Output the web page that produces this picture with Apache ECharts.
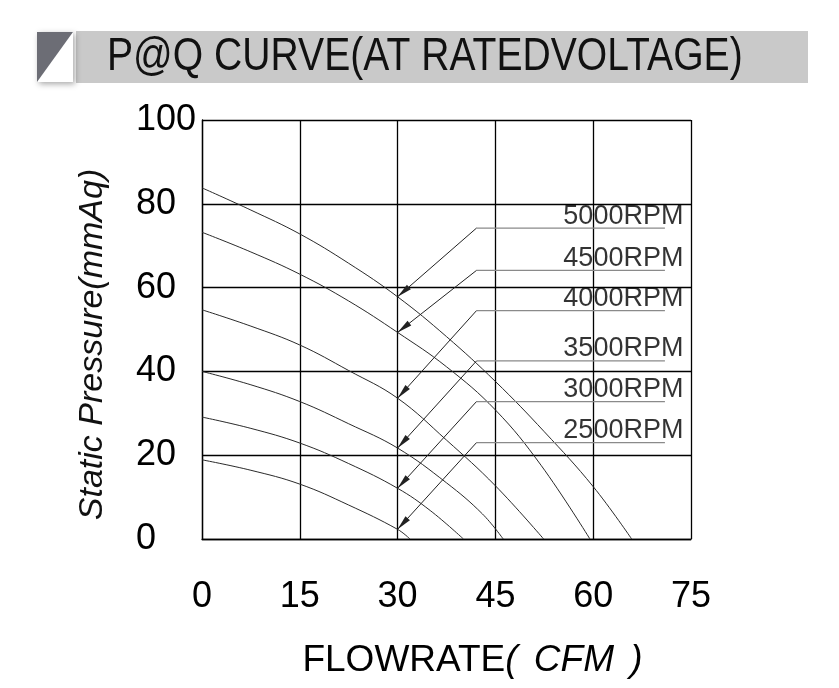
<!DOCTYPE html>
<html>
<head>
<meta charset="utf-8">
<script src="https://cdn.jsdelivr.net/npm/echarts@6/dist/echarts.min.js"></script>
<style>
html,body{margin:0;padding:0;background:#fff;}
#chart{width:839px;height:688px;}
</style>
</head>
<body>
<div id="chart"></div>
<script>
// ---- data (Flowrate CFM, Static pressure mmAq) ----
const flowTicks = [0, 15, 30, 45, 60, 75];
const pressureTicks = [0, 20, 40, 60, 80, 100];
const rpmNames = ['5000RPM', '4500RPM', '4000RPM', '3500RPM', '3000RPM', '2500RPM'];
const rpm5000 = [[0,83.8],[7.5,78.5],[15,72.8],[22.5,65.8],[30,57.8],[37.5,48.3],[45,37.6],[52.5,25.6],[60,12.5],[65.9,0]];
const rpm4500 = [[0,73.2],[7.5,68.5],[15,63.2],[22.5,56.8],[30,49.3],[37.5,41.1],[45,30.8],[52,17.6],[59.5,0]];
const rpm4000 = [[0,54.7],[7.5,50.8],[15,46.3],[22.5,40.2],[30,33.6],[37.5,23.6],[45,12.7],[52.4,0]];
const rpm3500 = [[0,40],[7.5,36.8],[15,32.8],[22.5,27.5],[30,21.7],[37.5,13.4],[43,6.0],[46.2,0]];
const rpm3000 = [[0,29.1],[7.5,26.4],[15,22.9],[22.5,18.0],[30,12.1],[35,6.8],[40.1,0]];
const rpm2500 = [[0,18.9],[7.5,16.4],[15,13.1],[22.5,8.1],[30,2.3],[31.9,0]];
const curves = [rpm5000, rpm4500, rpm4000, rpm3500, rpm3000, rpm2500];
// callout leader lines: pressure level of each label's horizontal line
const labelLineP = [74.2, 64.1, 54.5, 42.5, 32.8, 23.0];
const labelLineQ = [42.1, 71];   // flow range of horizontal label lines
const arrowQ = 30;                // arrows point at the curves at this flow

const FONT = 'Liberation Sans, Arial, sans-serif';
const chart = echarts.init(document.getElementById('chart'), null, {renderer: 'canvas'});

const series = [];
curves.forEach((c, i) => {
  series.push({
    type: 'line', name: rpmNames[i], data: c, showSymbol: false, symbol: 'none',
    smooth: 0.4,
    lineStyle: {color: '#2a2a2a', width: 1}, silent: true, z: 3
  });
});
curves.forEach((c, i) => {
  const target = c.find(p => p[0] === arrowQ)[1];
  series.push({
    type: 'line', data: [[labelLineQ[0], labelLineP[i]], [labelLineQ[1], labelLineP[i]]],
    showSymbol: false, symbol: 'none', silent: true, z: 4,
    lineStyle: {color: '#8a8a8a', width: 1.2},
    markLine: {
      silent: true, animation: false,
      symbol: ['none', 'triangle'], symbolSize: [6, 15], symbolOffset: [[0,0],[0,7.5]],
      lineStyle: {color: '#222', width: 1, type: 'solid'},
      label: {show: false},
      data: [[{coord: [labelLineQ[0], labelLineP[i]]}, {coord: [arrowQ, target]}]]
    }
  });
});
series.push({
  type: 'scatter', symbolSize: 1, silent: true, z: 5,
  itemStyle: {color: 'rgba(0,0,0,0)'},
  data: rpmNames.map((n, i) => ({
    value: [labelLineQ[1], labelLineP[i]], name: n,
    label: {show: true, formatter: n, position: 'left', distance: 0, offset: [19, -12],
      color: '#000', fontSize: 27, fontFamily: FONT}
  }))
});

chart.setOption({
  animation: false,
  backgroundColor: '#fff',
  grid: {left: 202, right: 148, top: 120, bottom: 149, containLabel: false},
  xAxis: {
    type: 'value', min: flowTicks[0], max: flowTicks[flowTicks.length-1], interval: flowTicks[1]-flowTicks[0],
    axisLine: {show: true, lineStyle: {color: '#000', width: 1.3}},
    axisTick: {show: false},
    splitLine: {show: true, lineStyle: {color: '#000', width: 1.3}},
    axisLabel: {margin: 40, color: '#000', fontSize: 36, fontFamily: FONT},
    name: '{n|FLOWRATE}{i|( }{c|CFM}{i| )}',
    nameLocation: 'middle', nameGap: 103,
    nameTextStyle: {
      padding: [0, 0, 0, 52],
      rich: {
        n: {fontSize: 37, color: '#000', fontFamily: FONT},
        i: {fontSize: 37, color: '#000', fontStyle: 'italic', fontFamily: FONT},
        c: {fontSize: 37, color: '#000', fontStyle: 'italic', padding: [0, 6, 0, 6], fontFamily: FONT}
      }
    }
  },
  yAxis: {
    type: 'value', min: pressureTicks[0], max: pressureTicks[pressureTicks.length-1], interval: pressureTicks[1]-pressureTicks[0],
    axisLine: {show: true, lineStyle: {color: '#000', width: 1.3}},
    axisTick: {show: false},
    splitLine: {show: true, lineStyle: {color: '#000', width: 1.3}},
    axisLabel: {margin: 66, align: 'left', color: '#000', fontSize: 36, fontFamily: FONT},
    name: 'Static Pressure(mmAq)',
    nameLocation: 'middle', nameGap: 92, nameRotate: 90,
    nameTextStyle: {fontSize: 34, fontStyle: 'italic', color: '#111', padding: [0, 30, 0, 0],
      fontFamily: FONT}
  },
  graphic: [
    {type: 'rect', shape: {x: 76, y: 31, width: 732, height: 52}, style: {fill: '#c9c9c9'}, z: 1},
    {type: 'rect', shape: {x: 37, y: 32, width: 36, height: 50},
      style: {fill: '#fff', shadowBlur: 6, shadowColor: 'rgba(0,0,0,0.35)', shadowOffsetX: 2, shadowOffsetY: 2}, z: 2},
    {type: 'polygon', shape: {points: [[37,32],[73,32],[37,82]]}, style: {fill: '#6c6d75'}, z: 3},
    {type: 'text', x: 107, y: 57, scaleX: 0.85, originX: 0,
      style: {text: 'P@Q CURVE(AT RATEDVOLTAGE)', fill: '#111', font: '46px "Liberation Sans", Arial, sans-serif',
        textVerticalAlign: 'middle', verticalAlign: 'middle'}, z: 4}
  ],
  series: series
});
</script>
</body>
</html>
